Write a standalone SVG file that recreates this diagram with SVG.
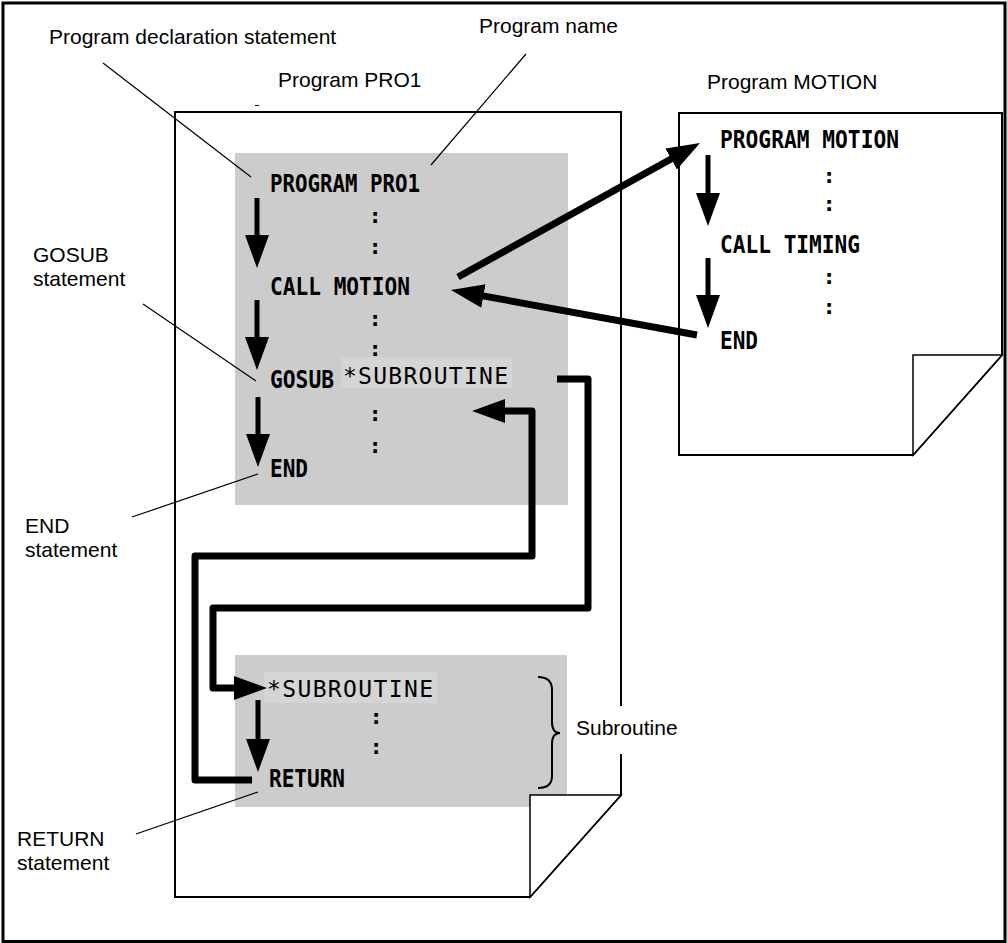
<svg xmlns="http://www.w3.org/2000/svg" width="1007" height="943" viewBox="0 0 1007 943">
  <style>
    .lbl{font-family:"Liberation Sans",Arial,sans-serif;font-size:21px;fill:#000}
    .code{font-family:"DejaVu Sans Mono","Liberation Mono",monospace;font-weight:bold;font-size:24px;fill:#000}
    .sub{font-family:"DejaVu Sans Mono","Liberation Mono",monospace;font-size:23px;fill:#000}
    .dots{font-family:"DejaVu Sans Mono","Liberation Mono",monospace;font-weight:bold;font-size:22px;fill:#000;text-anchor:middle}
    .page{fill:#fff;stroke:#000;stroke-width:2;stroke-linejoin:miter}
    .fold{fill:#fff;stroke:#000;stroke-width:1.5}
    .block{fill:#cccccc}
    .hl{fill:#d5d5d5}
    .leader{fill:none;stroke:#000;stroke-width:1.2}
    .flow{fill:none;stroke:#000;stroke-width:5}
    .jump{fill:none;stroke:#000;stroke-width:7;stroke-linejoin:round}
  </style>
  <defs>
    <marker id="head" markerUnits="userSpaceOnUse" viewBox="0 0 33 24" refX="2" refY="12" markerWidth="33" markerHeight="24" orient="auto">
      <path d="M0,0 L33,12 L0,24 Z" fill="#000"/>
    </marker>
  </defs>

  <!-- outer border -->
  <rect x="3" y="3" width="1002" height="938.5" fill="#fff" stroke="#000" stroke-width="3"/>

  <!-- main program sheet -->
  <g id="program-pro1">
    <path class="page" d="M175,112 H621 V795 L530,897 H175 Z"/>
    <line x1="255" y1="105.5" x2="259" y2="105.5" stroke="#000" stroke-width="1"/>
    <rect class="block" x="235" y="153" width="333" height="352"/>
    <rect class="block" x="235" y="655" width="332" height="152"/>
    <path class="fold" d="M530,897 V795 H621 Z"/>
    <rect class="hl" x="341" y="357" width="171" height="31"/>
    <rect class="hl" x="264" y="672" width="173" height="31"/>
    <text class="code" x="270" y="192" textLength="150" lengthAdjust="spacingAndGlyphs">PROGRAM PRO1</text>
    <text class="dots" x="375" y="223">:</text>
    <text class="dots" x="375" y="254">:</text>
    <text class="code" x="270" y="295" textLength="140" lengthAdjust="spacingAndGlyphs">CALL MOTION</text>
    <text class="dots" x="375" y="326">:</text>
    <text class="dots" x="375" y="356">:</text>
    <text class="code" x="270" y="388" textLength="64" lengthAdjust="spacingAndGlyphs">GOSUB</text>
    <text class="sub" x="343" y="384" textLength="165" lengthAdjust="spacing">*SUBROUTINE</text>
    <text class="dots" x="375" y="421">:</text>
    <text class="dots" x="375" y="453">:</text>
    <text class="code" x="270" y="477" textLength="38" lengthAdjust="spacingAndGlyphs">END</text>
    <text class="sub" x="267" y="697" textLength="166" lengthAdjust="spacing">*SUBROUTINE</text>
    <text class="dots" x="376" y="724">:</text>
    <text class="dots" x="376" y="754">:</text>
    <text class="code" x="269" y="787" textLength="76" lengthAdjust="spacingAndGlyphs">RETURN</text>
    <path d="M538,677 Q552,677 552,690 V722 Q552,733 560,733 Q552,733 552,744 V776 Q552,788 538,788" fill="none" stroke="#000" stroke-width="2"/>
  </g>

  <!-- called program sheet -->
  <g id="program-motion">
    <path class="page" d="M679,113 H1002 V355 L913,455 H679 Z"/>
    <path class="fold" d="M913,455 V355 H1002 Z"/>
    <text class="code" x="720" y="148" textLength="179" lengthAdjust="spacingAndGlyphs">PROGRAM MOTION</text>
    <text class="dots" x="829" y="183">:</text>
    <text class="dots" x="829" y="211">:</text>
    <text class="code" x="720" y="253" textLength="140" lengthAdjust="spacingAndGlyphs">CALL TIMING</text>
    <text class="dots" x="829" y="284">:</text>
    <text class="dots" x="829" y="314">:</text>
    <text class="code" x="720" y="349" textLength="38" lengthAdjust="spacingAndGlyphs">END</text>
  </g>

  <!-- callout labels -->
  <g id="labels">
    <text class="lbl" x="49" y="44">Program declaration statement</text>
    <line class="leader" x1="103" y1="63" x2="251" y2="177"/>
    <text class="lbl" x="479" y="33">Program name</text>
    <line class="leader" x1="526" y1="54" x2="431" y2="165"/>
    <text class="lbl" x="278" y="87">Program PRO1</text>
    <text class="lbl" x="707" y="89">Program MOTION</text>
    <text class="lbl" x="33" y="262">GOSUB</text>
    <text class="lbl" x="33" y="286">statement</text>
    <line class="leader" x1="143" y1="304" x2="256" y2="381"/>
    <text class="lbl" x="25" y="533">END</text>
    <text class="lbl" x="25" y="557">statement</text>
    <line class="leader" x1="132" y1="517" x2="258" y2="474"/>
    <text class="lbl" x="17" y="846">RETURN</text>
    <text class="lbl" x="17" y="870">statement</text>
    <line class="leader" x1="136" y1="834" x2="258" y2="792"/>
    <rect x="572" y="706" width="110" height="48" fill="#fff"/>
    <text class="lbl" x="576" y="735">Subroutine</text>
  </g>

  <!-- execution flow -->
  <g id="connectors">
    <line class="flow" x1="257" y1="198" x2="257" y2="237" marker-end="url(#head)"/>
    <line class="flow" x1="257" y1="300" x2="257" y2="339" marker-end="url(#head)"/>
    <line class="flow" x1="258" y1="397" x2="258" y2="436" marker-end="url(#head)"/>
    <line class="flow" x1="258" y1="700" x2="258" y2="741" marker-end="url(#head)"/>
    <line class="flow" x1="708" y1="155" x2="708" y2="195" marker-end="url(#head)"/>
    <line class="flow" x1="708" y1="258" x2="708" y2="297" marker-end="url(#head)"/>
    <line class="jump" x1="458" y1="277" x2="672.9" y2="158" marker-end="url(#head)"/>
    <line class="jump" x1="697" y1="335" x2="481.5" y2="295.6" marker-end="url(#head)"/>
    <path class="jump" d="M557,379 H588 V608 H213 V688 H236" marker-end="url(#head)"/>
    <path class="jump" d="M252,780 H195 V556 H532 V411 H503" marker-end="url(#head)"/>
  </g>
</svg>
